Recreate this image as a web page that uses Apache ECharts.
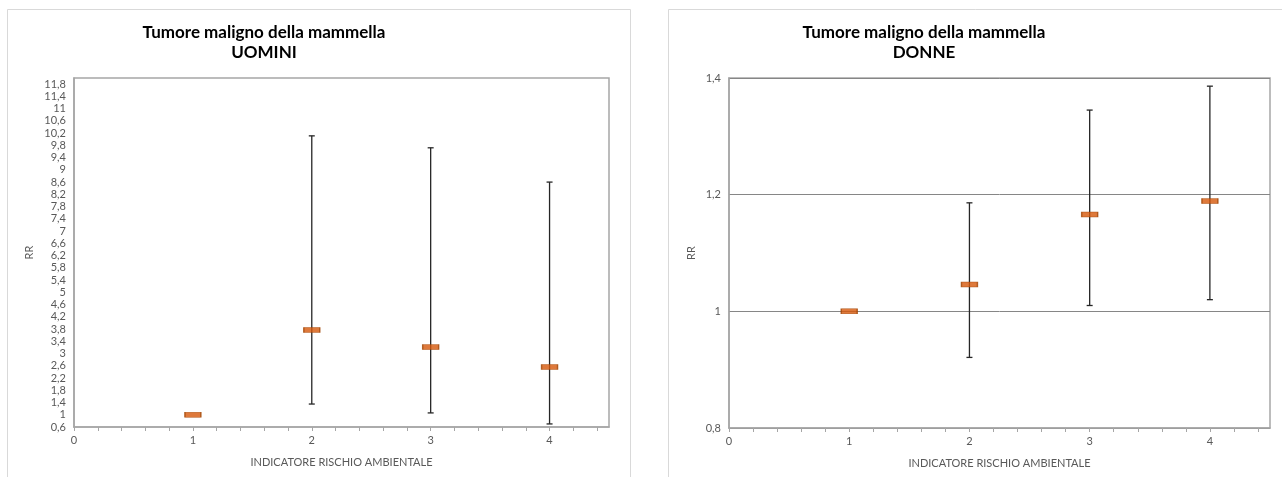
<!DOCTYPE html>
<html>
<head>
<meta charset="utf-8">
<script src="https://cdn.jsdelivr.net/npm/echarts@6/dist/echarts.min.js"></script>
<style>
  html, body { margin: 0; padding: 0; background: #ffffff; }
  #chart { width: 1282px; height: 477px; }
</style>
</head>
<body>
<div id="chart"></div>
<script>
// Rischio relativo (RR) con intervallo di confidenza per livello dell'indicatore
const indicatore = [1, 2, 3, 4];

const rrUomini     = [1.00, 3.77, 3.21, 2.56];
const icInfUomini  = [null, 1.35, 1.06, 0.70];
const icSupUomini  = [null, 10.11, 9.72, 8.60];

const rrDonne      = [1.000, 1.046, 1.166, 1.189];
const icInfDonne   = [null, 0.921, 1.010, 1.020];
const icSupDonne   = [null, 1.186, 1.345, 1.386];

const titoloUomini = ['Tumore maligno della mammella', 'UOMINI'];
const titoloDonne  = ['Tumore maligno della mammella', 'DONNE'];
const nomeAsseX = 'INDICATORE RISCHIO AMBIENTALE';
const nomeAsseY = 'RR';

const FONT = 'Lato, "Open Sans", sans-serif';
const GREY_TEXT = '#595959';
const AXIS_GREY = '#a6a6a6';
const ORANGE = '#d6580a';

const virgola = v => String(Number(v.toFixed(2))).replace('.', ',');

function puntiRR(rr) {
  return indicatore.map((x, i) => [x, rr[i]]);
}
function barreIC(inf, sup) {
  return indicatore
    .map((x, i) => [x, inf[i], sup[i]])
    .filter(d => d[1] != null && d[2] != null);
}

function renderErrorBar(params, api) {
  const x = api.value(0);
  const lo = api.coord([x, api.value(1)]);
  const hi = api.coord([x, api.value(2)]);
  const cap = 3;
  const style = { stroke: '#262626', lineWidth: 1.3 };
  return {
    type: 'group',
    children: [
      { type: 'line', shape: { x1: lo[0], y1: lo[1], x2: hi[0], y2: hi[1] }, style },
      { type: 'line', shape: { x1: lo[0] - cap, y1: lo[1], x2: lo[0] + cap, y2: lo[1] }, style },
      { type: 'line', shape: { x1: hi[0] - cap, y1: hi[1], x2: hi[0] + cap, y2: hi[1] }, style }
    ]
  };
}

function xAxisCfg(gridIndex) {
  return {
    type: 'value', gridIndex, min: 0, max: 4.5, interval: 0.2,
    name: nomeAsseX, nameLocation: 'middle', nameGap: 30,
    nameTextStyle: { fontFamily: FONT, fontSize: 11, color: GREY_TEXT },
    axisLine: { show: true, lineStyle: { color: AXIS_GREY, width: 1.5 } },
    axisTick: { show: true, length: 4, lineStyle: { color: AXIS_GREY, width: 1 } },
    splitLine: { show: false },
    axisLabel: {
      fontFamily: FONT, fontSize: 11, color: GREY_TEXT, margin: 8,
      showMaxLabel: false,
      formatter: v => (Math.abs(v - Math.round(v)) < 1e-6 ? String(Math.round(v)) : '')
    }
  };
}

function yAxisCfg(gridIndex, min, max, interval, nameGap, gridLines, maxLabel) {
  return {
    type: 'value', gridIndex, min, max, interval,
    name: nomeAsseY, nameLocation: 'middle', nameGap, nameRotate: 90,
    nameTextStyle: { fontFamily: FONT, fontSize: 11, color: GREY_TEXT },
    axisLine: { show: true, lineStyle: { color: AXIS_GREY, width: 1.5 } },
    axisTick: { show: false },
    splitLine: { show: gridLines, lineStyle: { color: '#868686', width: 1 } },
    axisLabel: {
      fontFamily: FONT, fontSize: 11, color: GREY_TEXT, margin: 8,
      showMaxLabel: maxLabel,
      formatter: v => virgola(v)
    }
  };
}

function titolo(righe, cx) {
  return {
    text: righe.join('\n'),
    left: cx, top: 18, textAlign: 'center',
    textStyle: { fontFamily: FONT, fontSize: 17, fontWeight: 'bold', color: '#000000', lineHeight: 20 }
  };
}

function serieRR(idx, dati) {
  return {
    type: 'scatter', xAxisIndex: idx, yAxisIndex: idx,
    data: dati, symbol: 'rect', symbolSize: [16, 5], z: 5,
    itemStyle: { color: ORANGE, borderColor: '#a04504', borderWidth: 0.8 },
    emphasis: { disabled: true }
  };
}
function serieIC(idx, dati) {
  return {
    type: 'custom', xAxisIndex: idx, yAxisIndex: idx,
    data: dati, renderItem: renderErrorBar, z: 3, silent: true
  };
}

const chart = echarts.init(document.getElementById('chart'), null, { renderer: 'canvas' });
chart.setOption({
  animation: false,
  backgroundColor: '#ffffff',
  title: [titolo(titoloUomini, 259), titolo(titoloDonne, 919)],
  graphic: [
    { type: 'rect', shape: { x: 7.5, y: 9.5, width: 623, height: 490 }, style: { fill: 'none', stroke: '#d9d9d9', lineWidth: 1 }, silent: true },
    { type: 'rect', shape: { x: 668.5, y: 9.5, width: 700, height: 490 }, style: { fill: 'none', stroke: '#d9d9d9', lineWidth: 1 }, silent: true }
  ],
  grid: [
    { left: 74, top: 78, width: 535, height: 349, show: true, borderColor: AXIS_GREY, borderWidth: 1.5, backgroundColor: 'transparent' },
    { left: 729, top: 78, width: 541, height: 350, show: true, borderColor: AXIS_GREY, borderWidth: 1.5, backgroundColor: 'transparent' }
  ],
  xAxis: [xAxisCfg(0), xAxisCfg(1)],
  yAxis: [
    yAxisCfg(0, 0.6, 12, 0.4, 39, false, false),
    yAxisCfg(1, 0.8, 1.4, 0.2, 32, true, true)
  ],
  series: [
    serieIC(0, barreIC(icInfUomini, icSupUomini)),
    serieRR(0, puntiRR(rrUomini)),
    serieIC(1, barreIC(icInfDonne, icSupDonne)),
    serieRR(1, puntiRR(rrDonne))
  ]
});
</script>
</body>
</html>
